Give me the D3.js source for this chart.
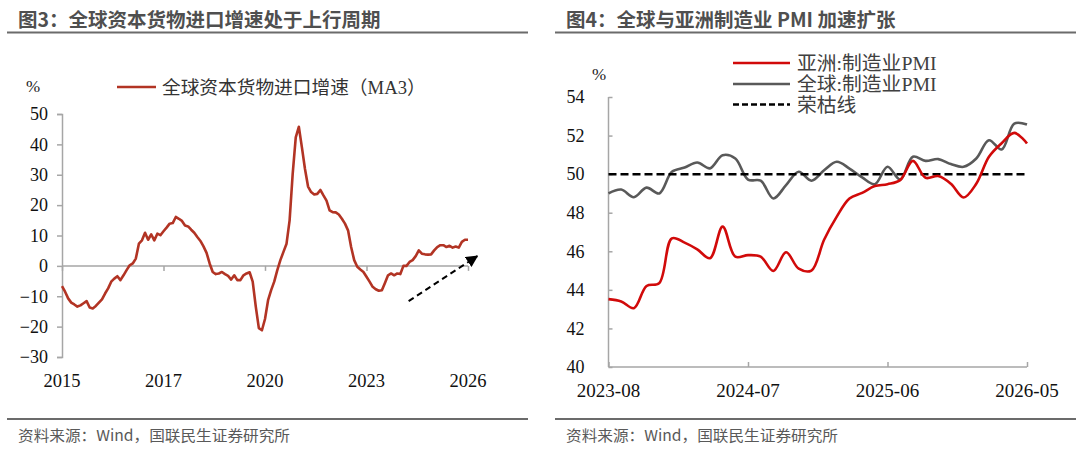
<!DOCTYPE html>
<html><head><meta charset="utf-8">
<script src="https://cdn.jsdelivr.net/npm/d3@7"></script>
<style>
html,body{margin:0;padding:0;background:#fff;}
svg{display:block;}
</style></head>
<body>
<svg id="c" width="1080" height="453"></svg>
<script>
// ---------- Data: left chart (monthly, 2015-01 .. 2026-01) ----------
const leftValues = [
-6.7,-8.5,-10.7,-12.1,-12.7,-13.4,-13.0,-12.3,-11.6,-13.7,
-14.0,-13.2,-12.1,-11.0,-9.1,-7.4,-5.2,-4.2,-3.4,-4.7,
-3.1,-1.4,0.2,0.8,2.4,7.3,8.4,10.9,8.6,10.4,
8.4,10.6,10.1,11.4,12.6,13.9,14.1,16.1,15.5,14.8,
13.3,13.0,11.9,10.9,9.5,8.2,6.4,4.3,0.8,-2.0,
-2.7,-2.5,-2.0,-2.7,-3.3,-4.5,-3.1,-4.7,-4.7,-3.1,
-2.5,-2.1,-5.2,-13.4,-20.5,-21.2,-17.5,-11.3,-8.0,-5.2,
-1.4,1.9,4.6,7.3,15.0,30.3,42.3,45.8,39.0,31.9,
26.1,24.3,23.5,23.7,25.0,23.2,21.5,18.3,17.7,17.6,
16.9,15.5,13.9,11.7,6.2,1.9,-0.3,-1.2,-2.0,-3.6,
-5.2,-6.9,-7.7,-8.2,-8.0,-5.6,-3.1,-2.5,-3.1,-2.5,
-2.7,0.0,0.0,1.3,1.9,3.2,5.1,4.0,3.8,3.7,
3.8,5.1,6.2,6.8,6.8,6.2,6.6,6.0,6.4,6.0,
7.9,8.6,8.6];
const leftTickIdx = [0,33,66,99,132];
const leftTickLabels = ["2015","2017","2020","2023","2026"];
const leftYTicks = [50,40,30,20,10,0,-10,-20,-30];
const leftSeriesName = "全球资本货物进口增速（MA3）";
// trend arrow annotation (in data units: month index, %)
const arrowFrom = [112.7,-11.6];
const arrowTo = [135,3.2];

// ---------- Data: right chart (monthly, 2023-08 .. 2026-05) ----------
const asiaPMI = [43.52,43.4,43.05,44.2,44.35,46.67,46.45,46.1,45.64,47.28,
45.72,45.8,45.72,44.98,45.95,45.1,45.0,46.6,47.8,48.74,
49.03,49.38,49.48,49.69,50.69,49.81,49.9,49.5,48.79,49.5,
50.9,51.6,52.14,51.59];
const globalPMI = [49.0,49.2,48.8,49.3,49.0,50.12,50.34,50.6,50.3,50.98,
50.81,49.72,49.66,48.74,49.43,50.12,49.66,50.2,50.64,50.29,
49.83,49.48,50.38,49.72,50.9,50.69,50.78,50.52,50.38,50.81,
51.76,51.28,52.62,52.57];
const boomBust = 50;
const rightTickIdx = [0,11,22,33];
const rightTickLabels = ["2023-08","2024-07","2025-06","2026-05"];
const rightYTicks = [54,52,50,48,46,44,42,40];
const rightSeriesNames = ["亚洲:制造业PMI","全球:制造业PMI","荣枯线"];

const svg = d3.select("#c");
const serif = "'Liberation Serif','Times New Roman','Noto Sans CJK SC',serif";
const sans = "'Noto Sans CJK SC','Noto Sans',sans-serif";
const axisCol = "#a6a6a6";

// ---------- Titles & frames ----------
function frame(x0, x1, title){
  svg.append("text").attr("x", x0+11).attr("y", 27).text(title)
    .attr("font-family", sans).attr("font-weight", 700).attr("font-size", 19.5)
    .attr("fill", "#4f4f4f");
  svg.append("line").attr("x1", x0).attr("x2", x1).attr("y1", 32.5).attr("y2", 32.5)
    .attr("stroke", "#6b6b6b").attr("stroke-width", 2);
  svg.append("line").attr("x1", x0).attr("x2", x1).attr("y1", 419).attr("y2", 419)
    .attr("stroke", "#6b6b6b").attr("stroke-width", 2);
  svg.append("text").attr("x", x0+11).attr("y", 441).text("资料来源：Wind，国联民生证券研究所")
    .attr("font-family", sans).attr("font-size", 15).attr("fill", "#595959")
    .attr("textLength", 272).attr("lengthAdjust", "spacingAndGlyphs");
}
frame(7, 528, "图3：全球资本货物进口增速处于上行周期");
frame(555, 1076, "图4：全球与亚洲制造业 PMI 加速扩张");

// ---------- Left chart ----------
const xL = d3.scaleLinear().domain([0,132]).range([62,468]);
const yL = d3.scaleLinear().domain([-30,50]).range([357,114]);
const gL = svg.append("g");

// y axis (ticks outside, left)
const yAxisL = d3.axisLeft(yL).tickValues(leftYTicks).tickSize(5).tickPadding(9).tickFormat(d3.format("d"));
const gyL = gL.append("g").attr("transform", `translate(${xL(0)},0)`).call(yAxisL);
gyL.select(".domain").attr("stroke", axisCol).attr("stroke-width", 1.5);
gyL.selectAll(".tick line").attr("stroke", axisCol).attr("stroke-width", 1.5);
gyL.selectAll(".tick text").attr("font-family", serif).attr("font-size", 18).attr("fill", "#111");

// x axis at y=0 (ticks downward)
const xAxisL = d3.axisBottom(xL).tickValues(leftTickIdx).tickSize(5).tickFormat(() => "");
const gxL = gL.append("g").attr("transform", `translate(0,${yL(0)})`).call(xAxisL);
gxL.select(".domain").attr("stroke", axisCol).attr("stroke-width", 1.5).attr("d", `M${xL(0)},0H${xL(132)}`);
gxL.selectAll(".tick line").attr("stroke", axisCol).attr("stroke-width", 1.5);
gL.selectAll(".xlab").data(leftTickIdx).join("text")
  .attr("x", d => xL(d)).attr("y", 387).attr("text-anchor", "middle")
  .text((d,i) => leftTickLabels[i])
  .attr("font-family", serif).attr("font-size", 18.5).attr("fill", "#111");

gL.append("text").attr("x", 33).attr("y", 92).attr("text-anchor", "middle").text("%")
  .attr("font-family", serif).attr("font-size", 17).attr("fill", "#222");

const leftColor = "#b23424";
gL.append("path").datum(leftValues)
  .attr("d", d3.line().x((d,i) => xL(i)).y(d => yL(d)))
  .attr("fill", "none").attr("stroke", leftColor).attr("stroke-width", 2.6).attr("stroke-linejoin", "round");

// legend
gL.append("line").attr("x1", 117).attr("x2", 156).attr("y1", 87).attr("y2", 87)
  .attr("stroke", leftColor).attr("stroke-width", 2.6);
gL.append("text").attr("x", 162).attr("y", 94).text(leftSeriesName)
  .attr("font-family", serif).attr("font-size", 18.7).attr("fill", "#333");

// arrow
svg.append("defs").append("marker").attr("id", "ah").attr("viewBox", "0 0 10 10")
  .attr("refX", 9).attr("refY", 5).attr("markerWidth", 6).attr("markerHeight", 6)
  .attr("markerUnits", "strokeWidth").attr("orient", "auto")
  .append("path").attr("d", "M0,0L10,5L0,10Z").attr("fill", "#000");
gL.append("line")
  .attr("x1", xL(arrowFrom[0])).attr("y1", yL(arrowFrom[1]))
  .attr("x2", xL(arrowTo[0])).attr("y2", yL(arrowTo[1]))
  .attr("stroke", "#000").attr("stroke-width", 2).attr("stroke-dasharray", "6,4")
  .attr("marker-end", "url(#ah)");

// ---------- Right chart ----------
const xR = d3.scaleLinear().domain([0,33]).range([608.5,1027]);
const yR = d3.scaleLinear().domain([40,54]).range([367,97]);
const gR = svg.append("g");

const yAxisR = d3.axisLeft(yR).tickValues(rightYTicks).tickSize(-4).tickPadding(24).tickFormat(d3.format("d"));
const gyR = gR.append("g").attr("transform", `translate(${xR(0)},0)`).call(yAxisR);
gyR.select(".domain").attr("stroke", axisCol).attr("stroke-width", 1.5).attr("d", `M0,${yR(54)}V${yR(40)}`);
gyR.selectAll(".tick line").attr("stroke", axisCol).attr("stroke-width", 1.5);
gyR.selectAll(".tick text").attr("font-family", serif).attr("font-size", 18).attr("fill", "#111");

const xAxisR = d3.axisBottom(xR).tickValues(rightTickIdx).tickSize(-5).tickFormat(() => "");
const gxR = gR.append("g").attr("transform", `translate(0,${yR(40)})`).call(xAxisR);
gxR.select(".domain").attr("stroke", axisCol).attr("stroke-width", 1.5).attr("d", `M${xR(0)},0H${xR(33)}`);
gxR.selectAll(".tick line").attr("stroke", axisCol).attr("stroke-width", 1.5);
gR.selectAll(".xlab").data(rightTickIdx).join("text")
  .attr("x", d => xR(d)).attr("y", 397).attr("text-anchor", "middle")
  .text((d,i) => rightTickLabels[i])
  .attr("font-family", serif).attr("font-size", 19).attr("fill", "#111");

gR.append("text").attr("x", 599).attr("y", 80).attr("text-anchor", "middle").text("%")
  .attr("font-family", serif).attr("font-size", 17).attr("fill", "#222");

const asiaColor = "#d10a0a", globalColor = "#595959";
const lineR = d3.line().x((d,i) => xR(i)).y(d => yR(d)).curve(d3.curveCatmullRom.alpha(0.5));
gR.append("path").datum(globalPMI).attr("d", lineR)
  .attr("fill", "none").attr("stroke", globalColor).attr("stroke-width", 2.6);
gR.append("line").attr("x1", xR(0)).attr("x2", xR(33)).attr("y1", yR(boomBust)).attr("y2", yR(boomBust))
  .attr("stroke", "#000").attr("stroke-width", 2.5).attr("stroke-dasharray", "8,4");
gR.append("path").datum(asiaPMI).attr("d", lineR)
  .attr("fill", "none").attr("stroke", asiaColor).attr("stroke-width", 2.6);

// legend
const legY = [63, 84, 104.5];
const legStyle = [
  {c: asiaColor, dash: null},
  {c: globalColor, dash: null},
  {c: "#000", dash: "6,3"}
];
rightSeriesNames.forEach((n, i) => {
  gR.append("line").attr("x1", 733).attr("x2", 790).attr("y1", legY[i]).attr("y2", legY[i])
    .attr("stroke", legStyle[i].c).attr("stroke-width", 2.5)
    .attr("stroke-dasharray", legStyle[i].dash);
  gR.append("text").attr("x", 797).attr("y", legY[i] + 7).text(n)
    .attr("font-family", serif).attr("font-size", 19.8).attr("fill", "#404040");
});
</script>
</body></html>
